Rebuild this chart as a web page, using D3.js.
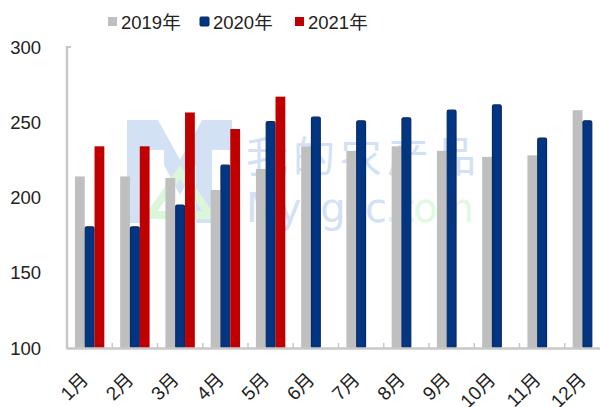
<!DOCTYPE html>
<html>
<head>
<meta charset="utf-8">
<script src="https://cdn.jsdelivr.net/npm/d3@7/dist/d3.min.js"></script>
<style>
  html, body { margin: 0; padding: 0; background: #fff; }
  svg { display: block; font-family: "Liberation Sans", Arial, "Noto Sans CJK SC", sans-serif; }
</style>
</head>
<body>
<svg id="chart" width="600" height="407"></svg>
<script>
const months = ["1月","2月","3月","4月","5月","6月","7月","8月","9月","10月","11月","12月"];
const seriesNames = ["2019年","2020年","2021年"];
const v2019 = [214, 214, 213, 205, 219, 234, 231, 234, 231, 227, 228, 258];
const v2020 = [180.5, 180.5, 195, 221.5, 250.5, 253.5, 251, 253, 258, 261.5, 239.5, 251];
const v2021 = [234, 234, 256.5, 245.5, 267, null, null, null, null, null, null, null];
const yTicks = [100, 150, 200, 250, 300];
const colors = ["#bfbfbf", "#023683", "#c00000"];
const strokes = ["none", "#0b2a61", "none"];

const svg = d3.select("#chart");
const mLeft = 67, mRight = 610, mTop = 47, mBottom = 348;

const x0 = d3.scaleBand().domain(months).range([mLeft, mRight]).paddingInner(0.35).paddingOuter(0.175);
const x1 = d3.scaleBand().domain(seriesNames).range([0, x0.bandwidth()]).padding(0);
const y = d3.scaleLinear().domain([100, 300]).range([mBottom, mTop]);

// watermark
const wm = svg.append("g").attr("opacity", 0.5);
wm.append("path")
  .attr("d", "M127,223 L127,120 L158,120 L180,160 L202,120 L232,120 L232,150 L212,150 L212,223 L196,223 L196,165 L180,195 L164,165 L164,150 L145,150 L145,223 Z")
  .attr("fill", "#a9c4ec");
wm.append("path").attr("d", "M150,215 L180,172 L210,215 Z").attr("fill", "none").attr("stroke", "#b9f0b9").attr("stroke-width", 8);
wm.append("text").attr("x", 246).attr("y", 172).attr("font-size", 42).attr("fill", "#a9c4ec")
  .attr("font-family", "Noto Sans CJK SC").attr("textLength", 230).text("我的农产品");
const wt = wm.append("text").attr("x", 246).attr("y", 222).attr("font-size", 40).attr("font-family", "DejaVu Sans")
  .attr("textLength", 228);
wt.append("tspan").attr("fill", "#a9c4ec").text("Myagric");
wt.append("tspan").attr("fill", "#c4f5c4").text(".com");

// bars
const series = [v2019, v2020, v2021];
series.forEach((vals, si) => {
  svg.append("g").selectAll("rect")
    .data(months.map((m, i) => ({ m, v: vals[i] })).filter(d => d.v != null))
    .join("rect")
    .attr("x", d => x0(d.m) + x1(seriesNames[si]) + (si === 1 ? 0.5 : 0))
    .attr("width", x1.bandwidth() - (si === 1 ? 1 : 0))
    .attr("y", d => y(d.v))
    .attr("height", d => y(100) - y(d.v))
    .attr("fill", colors[si])
    .attr("stroke", strokes[si])
    .attr("stroke-width", si === 1 ? 1.2 : 0)
    .attr("rx", si === 1 ? 1.5 : 0);
});

// y axis
const axisColor = "#c8c8c8";
svg.append("line").attr("x1", mLeft).attr("x2", mLeft).attr("y1", y(300) - 1).attr("y2", mBottom + 1)
  .attr("stroke", axisColor).attr("stroke-width", 2.5);
svg.append("line").attr("x1", mLeft - 1).attr("x2", mLeft + 4).attr("y1", y(300)).attr("y2", y(300))
  .attr("stroke", axisColor).attr("stroke-width", 2);
svg.append("g").selectAll("text").data(yTicks).join("text")
  .attr("x", 41).attr("y", d => y(d)).attr("dy", "0.36em")
  .attr("text-anchor", "end").attr("font-size", 18.5).attr("fill", "#222").text(d => d);

// x axis
svg.append("line").attr("x1", mLeft).attr("x2", 600).attr("y1", mBottom + 0.5).attr("y2", mBottom + 0.5)
  .attr("stroke", axisColor).attr("stroke-width", 2.5);
const step = x0.step();
svg.append("g").selectAll("line").data(months.slice(1)).join("line")
  .attr("x1", d => x0(d) - step * 0.175).attr("x2", d => x0(d) - step * 0.175)
  .attr("y1", mBottom).attr("y2", mBottom - 5)
  .attr("stroke", axisColor).attr("stroke-width", 1.5);
svg.append("g").selectAll("text").data(months).join("text")
  .attr("transform", d => `translate(${x0(d) + x0.bandwidth() / 2 - 5},${mBottom + 28}) rotate(-45)`)
  .attr("text-anchor", "end").attr("dy", "0.35em")
  .attr("font-size", 19).attr("fill", "#222").text(d => d);

// legend
const legend = svg.append("g");
const legX = [108, 200, 295];
seriesNames.forEach((n, i) => {
  legend.append("rect").attr("x", legX[i]).attr("y", 17).attr("width", 9).attr("height", 9)
    .attr("fill", colors[i]).attr("stroke", strokes[i]).attr("stroke-width", i === 1 ? 1 : 0).attr("rx", i === 1 ? 1 : 0);
  legend.append("text").attr("x", legX[i] + 13).attr("y", 28.5).attr("font-size", 18.5).attr("fill", "#222").text(n);
});
</script>
</body>
</html>
